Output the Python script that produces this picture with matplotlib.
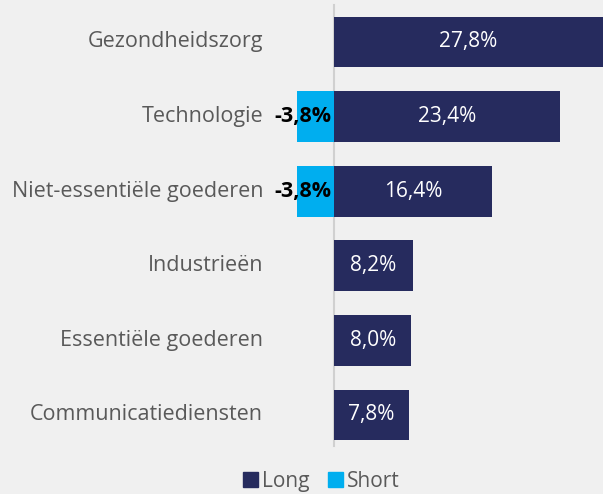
import matplotlib.pyplot as plt
from matplotlib.patches import Patch

plt.rcParams['font.family'] = ['Open Sans', 'DejaVu Sans']

# data
sectoren = ['Gezondheidszorg', 'Technologie', 'Niet-essentiële goederen',
            'Industrieën', 'Essentiële goederen', 'Communicatiediensten']
long_vals = [27.8, 23.4, 16.4, 8.2, 8.0, 7.8]
short_vals = [0.0, -3.8, -3.8, 0.0, 0.0, 0.0]

kleur_long = '#262b5e'
kleur_short = '#00aeef'
achtergrond = '#f0f0f0'
tekst_grijs = '#595959'

fig = plt.figure(figsize=(6.03, 4.94), dpi=100, facecolor=achtergrond)
ax = fig.add_axes([0, 0, 1, 1])
ax.set_facecolor(achtergrond)

y = list(range(len(sectoren)))
ax.barh(y, long_vals, height=0.68, color=kleur_long, zorder=2)
ax.barh(y, short_vals, height=0.68, color=kleur_short, zorder=2)

# nullijn
ax.plot([0, 0], [-0.5, 5.42], color='#d0d0d0', lw=1.5, zorder=1)

for i, (lv, sv) in enumerate(zip(long_vals, short_vals)):
    ax.text(lv / 2, i, f'{lv:.1f}%'.replace('.', ','), ha='center', va='center',
            color='white', fontsize=15, zorder=3)
    if sv != 0:
        ax.text(-0.3, i, f'{sv:.1f}%'.replace('.', ','), ha='right', va='center',
                color='black', fontsize=15.5, fontweight='bold', zorder=3)
    ax.text(-7.35, i, sectoren[i], ha='right', va='center',
            color=tekst_grijs, fontsize=15.5)

ax.set_xlim(-34.58, 27.85)
ax.set_ylim(6.06, -0.563)
ax.axis('off')

handles = [Patch(color=kleur_long, label='Long'), Patch(color=kleur_short, label='Short')]
leg = fig.legend(handles=handles, loc='center', bbox_to_anchor=(0.533, 0.026), ncol=2,
                 frameon=False, fontsize=15, handlelength=0.7, handleheight=0.7,
                 handletextpad=0.2, columnspacing=0.9, labelcolor=tekst_grijs)

fig.savefig('out.png', dpi=100, facecolor=achtergrond)
